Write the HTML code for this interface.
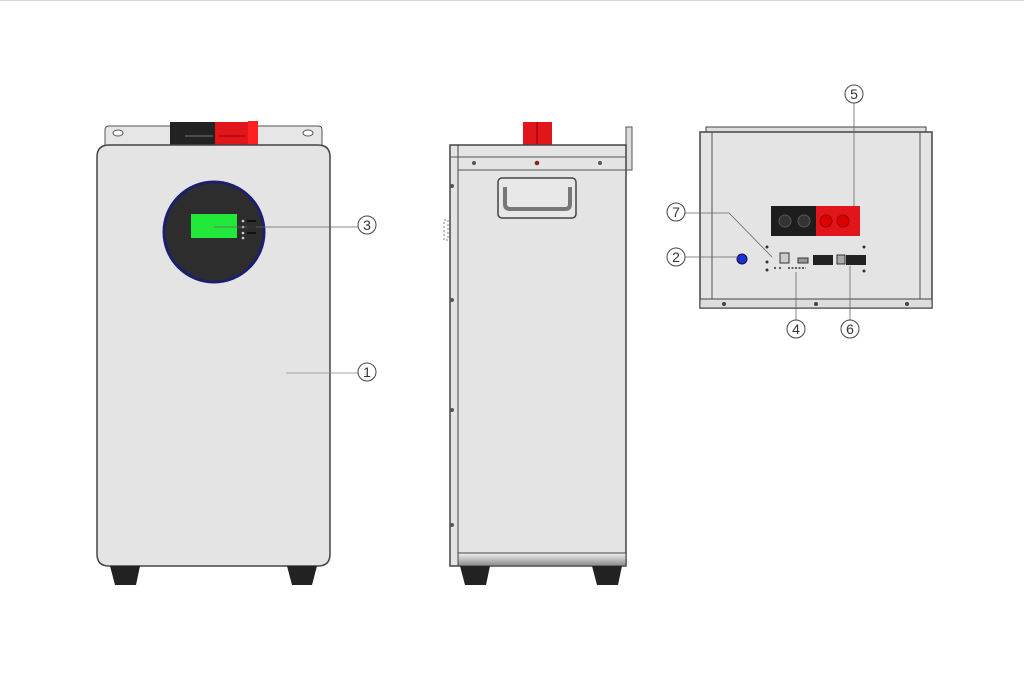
<!DOCTYPE html>
<html><head><style>
html,body{margin:0;padding:0;background:#fff;}
svg{display:block;}
text{font-family:"Liberation Sans",sans-serif;font-size:14px;fill:#333;}
</style></head><body>
<svg width="1024" height="685" viewBox="0 0 1024 685">
<defs>
<linearGradient id="bb" x1="0" y1="0" x2="0" y2="1"><stop offset="0" stop-color="#f2f2f2"/><stop offset="1" stop-color="#888"/></linearGradient>
</defs>
<rect width="1024" height="1" fill="#cfd6de"/>
<!-- FRONT -->
<path d="M105,145 L105,130 Q105,126 109,126 L318,126 Q322,126 322,130 L322,145 Z" fill="#e6e6e6" stroke="#555" stroke-width="1"/>
<ellipse cx="118" cy="133" rx="5" ry="3" fill="#fff" stroke="#555"/>
<ellipse cx="308" cy="133" rx="5" ry="3" fill="#fff" stroke="#555"/>
<rect x="170" y="122" width="45" height="23" fill="#222"/>
<rect x="215" y="122" width="43" height="23" fill="#e0161b"/>
<rect x="248" y="121" width="10" height="24" fill="#ff2020"/>
<line x1="185" y1="136" x2="213" y2="136" stroke="#777"/>
<line x1="219" y1="136" x2="245" y2="136" stroke="#900"/>
<path d="M97,157 Q97,145 109,145 L318,145 Q330,145 330,157 L330,554 Q330,566 318,566 L109,566 Q97,566 97,554 Z" fill="#e4e4e4" stroke="#444" stroke-width="1.5"/>
<path d="M110,566 L140,566 L136,585 L115,585 Z" fill="#222"/>
<path d="M287,566 L317,566 L312,585 L292,585 Z" fill="#222"/>
<circle cx="214" cy="232" r="50" fill="#2d2d2d" stroke="#1c1f6e" stroke-width="3"/>
<rect x="191" y="214" width="46" height="24" fill="#22e83a"/>
<g fill="#ccc"><circle cx="243" cy="221" r="1.3"/><circle cx="243" cy="227" r="1.3"/><circle cx="243" cy="233" r="1.3"/><circle cx="243" cy="238" r="1.3"/></g>
<g stroke="#111" stroke-width="2"><line x1="247" y1="221" x2="256" y2="221"/><line x1="247" y1="227" x2="256" y2="227"/><line x1="247" y1="233" x2="256" y2="233"/></g>
<line x1="214" y1="227" x2="358" y2="227" stroke="#666" stroke-width="0.8"/>
<circle cx="367" cy="225" r="9" fill="#fff" stroke="#444"/><text x="367" y="230" text-anchor="middle">3</text>
<line x1="286" y1="373" x2="358" y2="373" stroke="#888" stroke-width="0.8"/>
<circle cx="367" cy="372" r="9" fill="#fff" stroke="#444"/><text x="367" y="377" text-anchor="middle">1</text>
<!-- SIDE -->
<rect x="523" y="122" width="29" height="23" fill="#e0161b"/>
<line x1="537" y1="122" x2="537" y2="145" stroke="#800"/>
<rect x="626" y="127" width="6" height="43" fill="#ddd" stroke="#555"/>
<rect x="450" y="145" width="176" height="421" fill="#e4e4e4" stroke="#444" stroke-width="1.5"/>
<line x1="458" y1="145" x2="458" y2="566" stroke="#444"/>
<line x1="450" y1="157" x2="626" y2="157" stroke="#555"/>
<line x1="458" y1="170" x2="626" y2="170" stroke="#555"/>
<g fill="#555"><circle cx="474" cy="163" r="2"/><circle cx="537" cy="163" r="2.3" fill="#822"/><circle cx="600" cy="163" r="2"/><circle cx="452" cy="186" r="2"/><circle cx="452" cy="300" r="2"/><circle cx="452" cy="410" r="2"/><circle cx="452" cy="525" r="2"/></g>
<rect x="498" y="178" width="78" height="40" rx="4" fill="#e8e8e8" stroke="#444" stroke-width="1.5"/>
<path d="M505,187 L505,204 Q505,209 510,209 L565,209 Q570,209 570,204 L570,187" fill="none" stroke="#777" stroke-width="4"/>
<rect x="444" y="220" width="4" height="20" fill="none" stroke="#888" stroke-dasharray="2,2"/>
<rect x="458" y="553" width="168" height="13" fill="url(#bb)" stroke="#444"/>
<path d="M460,566 L490,566 L486,585 L465,585 Z" fill="#222"/>
<path d="M592,566 L622,566 L618,585 L597,585 Z" fill="#222"/>
<!-- BACK -->
<rect x="706" y="127" width="220" height="6" fill="#ddd" stroke="#444"/>
<rect x="700" y="132" width="232" height="176" fill="#e4e4e4" stroke="#444" stroke-width="1.5"/>
<line x1="712" y1="132" x2="712" y2="300" stroke="#555"/>
<line x1="920" y1="132" x2="920" y2="300" stroke="#555"/>
<rect x="700" y="299" width="232" height="9" fill="#ddd" stroke="#444"/>
<g fill="#444"><circle cx="724" cy="304" r="2"/><circle cx="816" cy="304" r="2"/><circle cx="907" cy="304" r="2"/></g>
<rect x="771" y="206" width="45" height="30" fill="#1d1d1d"/>
<rect x="816" y="206" width="44" height="30" fill="#e0161b"/>
<circle cx="785" cy="221" r="6" fill="#333" stroke="#555"/><circle cx="804" cy="221" r="6" fill="#333" stroke="#555"/>
<circle cx="826" cy="221" r="6" fill="#d00" stroke="#900"/><circle cx="843" cy="221" r="6" fill="#d00" stroke="#900"/>
<circle cx="742" cy="259" r="5" fill="#1c2fd8" stroke="#113"/>
<g fill="#333"><circle cx="767" cy="247" r="1.5"/><circle cx="767" cy="262" r="1.5"/><circle cx="767" cy="270" r="1.5"/><circle cx="864" cy="247" r="1.5"/><circle cx="864" cy="271" r="1.5"/><circle cx="775" cy="268" r="1"/><circle cx="780" cy="268" r="1"/></g>
<rect x="780" y="253" width="9" height="10" fill="#ccc" stroke="#333"/>
<rect x="798" y="258" width="10" height="5" fill="#999" stroke="#333"/>
<line x1="788" y1="268" x2="806" y2="268" stroke="#333" stroke-width="1.5" stroke-dasharray="2,1.5"/>
<rect x="813" y="255" width="20" height="10" fill="#222"/>
<rect x="837" y="255" width="8" height="9" fill="#aaa" stroke="#333"/>
<rect x="846" y="255" width="20" height="10" fill="#222"/>
<line x1="854" y1="103" x2="854" y2="206" stroke="#666" stroke-width="0.8"/>
<circle cx="854" cy="94" r="9" fill="#fff" stroke="#444"/><text x="854" y="99" text-anchor="middle">5</text>
<polyline points="685,213 729,213 772,257" fill="none" stroke="#666" stroke-width="0.8"/>
<circle cx="676" cy="212" r="9" fill="#fff" stroke="#444"/><text x="676" y="217" text-anchor="middle">7</text>
<line x1="685" y1="257" x2="738" y2="257" stroke="#666" stroke-width="0.8"/>
<circle cx="676" cy="257" r="9" fill="#fff" stroke="#444"/><text x="676" y="262" text-anchor="middle">2</text>
<line x1="796" y1="272" x2="796" y2="320" stroke="#666" stroke-width="0.8"/>
<circle cx="796" cy="329" r="9" fill="#fff" stroke="#444"/><text x="796" y="334" text-anchor="middle">4</text>
<line x1="850" y1="266" x2="850" y2="320" stroke="#666" stroke-width="0.8"/>
<circle cx="850" cy="329" r="9" fill="#fff" stroke="#444"/><text x="850" y="334" text-anchor="middle">6</text>
</svg>
</body></html>
